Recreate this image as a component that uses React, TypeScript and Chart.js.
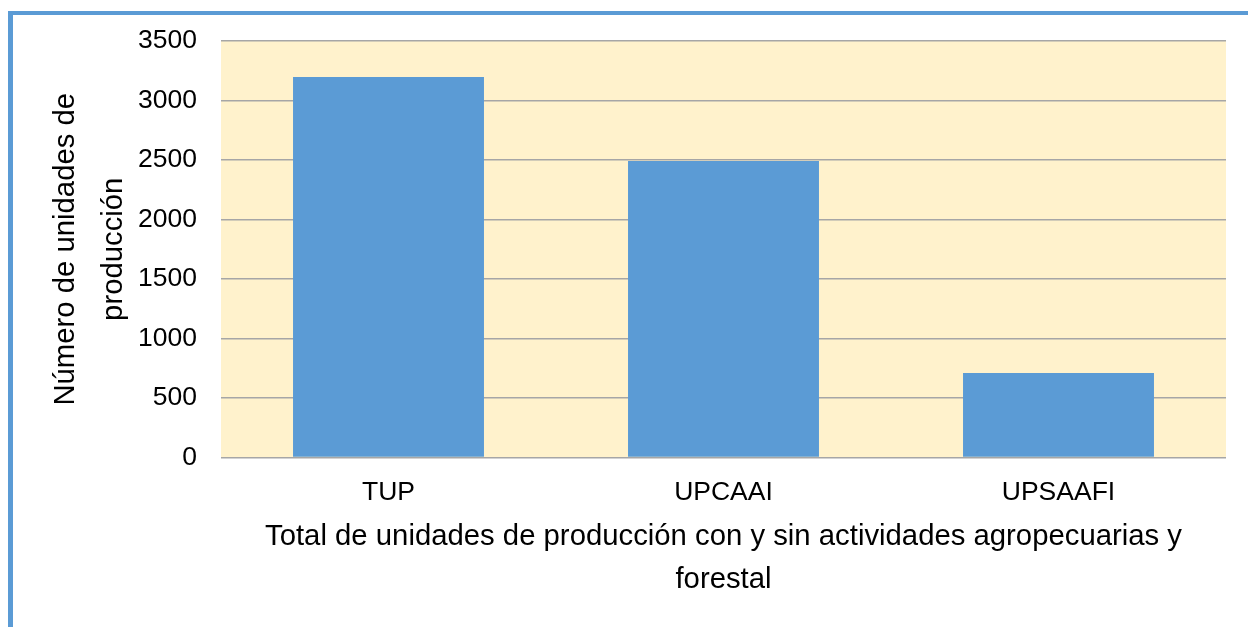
import React, { useEffect, useRef } from "react";
import { Chart, registerables } from "chart.js";

Chart.register(...registerables);

const categories = ["TUP", "UPCAAI", "UPSAAFI"];
const values = [3197, 2491, 710];
const yTitle = ["Número de unidades de", "producción"];
const xTitle = ["Total de unidades de producción con y sin actividades agropecuarias y", "forestal"];

const FONT = "'Liberation Sans', Arial, sans-serif";

const plotBg = {
  id: "plotBg",
  beforeDraw(chart: any) {
    const { ctx, chartArea } = chart;
    ctx.save();
    ctx.fillStyle = "#FFF2CC";
    ctx.fillRect(chartArea.left, chartArea.top, chartArea.right - chartArea.left, chartArea.bottom - chartArea.top);
    ctx.restore();
  },
};

export default function App() {
  const ref = useRef<HTMLCanvasElement>(null);
  useEffect(() => {
    document.body.style.overflow = "hidden";
    document.documentElement.style.overflow = "hidden";
    const chart = new Chart(ref.current as HTMLCanvasElement, {
      type: "bar",
      data: {
        labels: categories,
        datasets: [
          {
            data: values,
            backgroundColor: "#5B9BD5",
            categoryPercentage: 1,
            barPercentage: 0.57,
          },
        ],
      },
      options: {
        animation: false,
        responsive: false,
        layout: { padding: { top: 41, right: 22, bottom: 0, left: 0 } },
        plugins: { legend: { display: false }, tooltip: { enabled: false } },
        scales: {
          x: {
            grid: { display: false },
            border: { display: false },
            ticks: { color: "#000", font: { family: FONT, size: 26.5 }, padding: 11 },
            title: {
              display: true,
              text: xTitle,
              color: "#000",
              font: { family: FONT, size: 29.3, lineHeight: 43 / 29.3 },
              padding: { top: 0, bottom: 26 },
            },
            afterFit(scale: any) {
              scale.height = 169.5;
            },
          },
          y: {
            min: 0,
            max: 3500,
            grid: { color: "#A6A6A6", lineWidth: 1.5, drawTicks: false },
            border: { display: false },
            ticks: {
              stepSize: 500,
              color: "#000",
              font: { family: FONT, size: 26.5 },
              padding: 24,
              callback: (v: any) => String(v),
            },
            title: {
              display: true,
              text: yTitle,
              color: "#000",
              font: { family: FONT, size: 29.3, lineHeight: 48 / 29.3 },
              padding: { top: 42, bottom: 0 },
            },
            afterFit(scale: any) {
              scale.width = 221;
            },
          },
        },
      },
      plugins: [plotBg],
    });
    return () => chart.destroy();
  }, []);

  return (
    <>
      <div
        style={{
          position: "fixed",
          left: 8,
          top: 11,
          width: 1400,
          height: 800,
          borderLeft: "5px solid #5B9BD5",
          borderTop: "4px solid #5B9BD5",
          boxSizing: "border-box",
        }}
      />
      <canvas
        ref={ref}
        width={1248}
        height={627}
        style={{ position: "fixed", left: 0, top: 0, width: 1248, height: 627 }}
      />
    </>
  );
}
